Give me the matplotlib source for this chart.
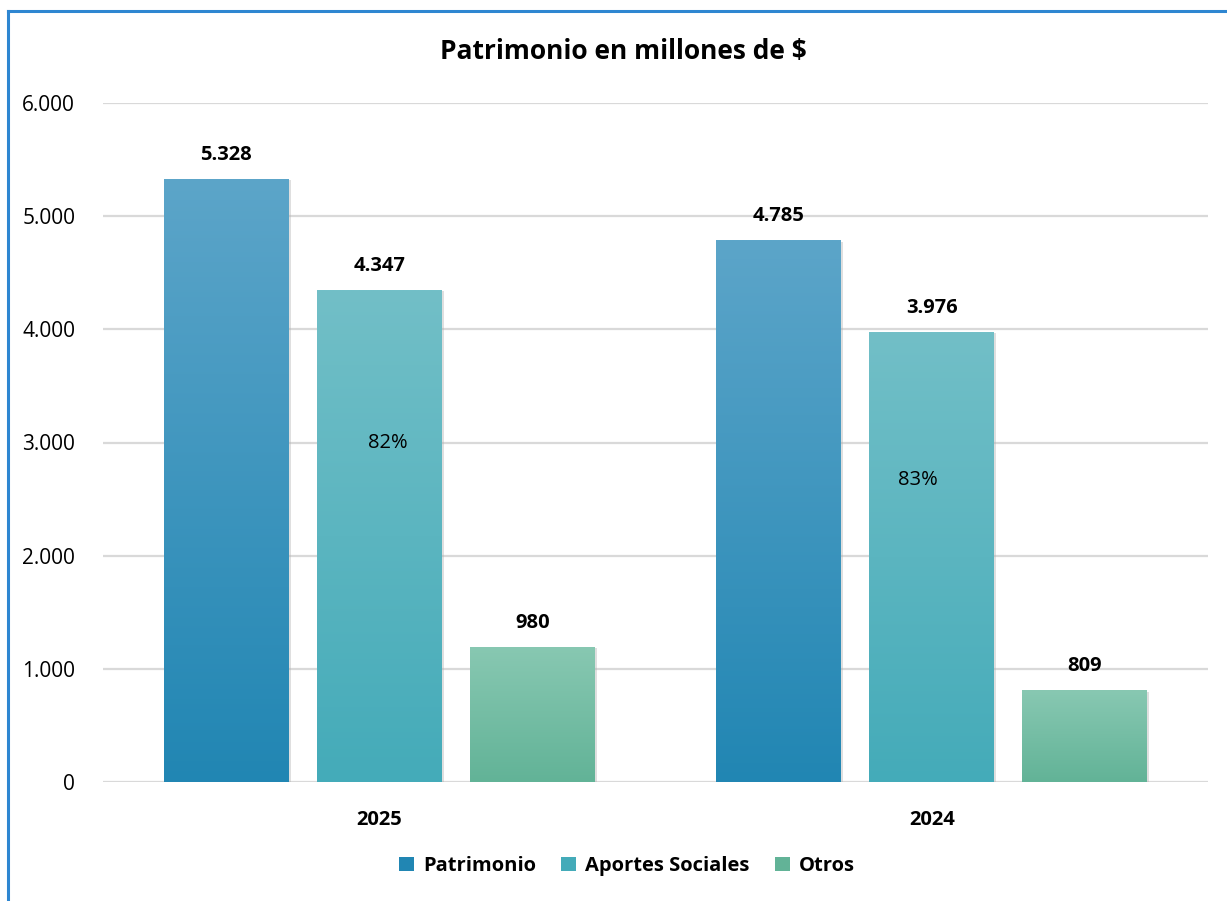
import numpy as np
import matplotlib.pyplot as plt
from matplotlib.colors import LinearSegmentedColormap
from matplotlib.patches import Patch, Rectangle
from matplotlib import patheffects as pe
from matplotlib.ticker import FuncFormatter

years = ["2025", "2024"]
series = ["Patrimonio", "Aportes Sociales", "Otros"]
patrimonio = [5328, 4785]
aportes = [4347, 3976]
otros = [1195, 809]  # drawn height; 2025 label reads 980 in the source
labels = [["5.328", "4.785"], ["4.347", "3.976"], ["980", "809"]]
pct_labels = ["82%", "83%"]
pct_pos = [(0.015, 3000), (-0.025, 2670)]

top_colors = ["#5ca5c9", "#72bfc7", "#88c8b2"]
bot_colors = ["#2186b3", "#44abb9", "#62b397"]

plt.rcParams["font.family"] = ["Open Sans", "DejaVu Sans"]

fig = plt.figure(figsize=(12.27, 9.01), dpi=100)
ax = fig.add_axes([103 / 1227, 1 - 782 / 901, (1208 - 103) / 1227, (782 - 103) / 901])

values = [patrimonio, aportes, otros]
x = np.arange(len(years))
width = 0.226
offsets = [-0.277, 0, 0.277]
grad = np.linspace(0, 1, 256).reshape(-1, 1)

for i, vals in enumerate(values):
    cmap = LinearSegmentedColormap.from_list(series[i], [bot_colors[i], top_colors[i]])
    for j, v in enumerate(vals):
        x0 = x[j] + offsets[i] - width / 2
        rect = Rectangle((x0, 0), width, v, facecolor="none", edgecolor="none", zorder=3)
        ax.add_patch(rect)
        shadow = Rectangle((x0, 0), width, v, facecolor="#000000", alpha=0.0, zorder=2,
                           path_effects=[pe.SimplePatchShadow(offset=(1.5, -1), shadow_rgbFace="#b0b0b0", alpha=0.4)])
        ax.add_patch(shadow)
        im = ax.imshow(grad, extent=(x0, x0 + width, 0, v), origin="lower", aspect="auto",
                       cmap=cmap, zorder=3)
        im.set_clip_path(rect)
        ax.text(x[j] + offsets[i], v + 125, labels[i][j], ha="center", va="bottom",
                fontsize=14.5, fontweight="bold", color="#000000", zorder=4)

for j, (dx, y) in enumerate(pct_pos):
    ax.text(x[j] + dx, y, pct_labels[j], ha="center", va="center", fontsize=14.5, color="#000000", zorder=4)

ax.set_xlim(-0.5, 1.5)
ax.set_ylim(0, 6000)
ax.set_yticks(range(0, 6001, 1000))
ax.yaxis.set_major_formatter(FuncFormatter(lambda v, p: f"{int(v):,}".replace(",", ".")))
ax.set_xticks(x)
ax.set_xticklabels(years, fontsize=14.5, fontweight="bold")
ax.tick_params(axis="y", labelsize=15, length=0, pad=20)
ax.tick_params(axis="x", length=0, pad=20)
ax.grid(axis="y", color="#d9d9d9", linewidth=1.6, zorder=0)
ax.set_axisbelow(True)
for s in ax.spines.values():
    s.set_visible(False)

fig.text(623 / 1227, 1 - 52 / 901, "Patrimonio en millones de $", ha="center", va="center",
         fontsize=19, fontweight="bold")

handles = [Patch(facecolor=bot_colors[i], edgecolor="none") for i in range(3)]
fig.legend(handles, series, loc="center", bbox_to_anchor=(627 / 1227, 1 - 866 / 901), ncol=3,
           frameon=False, prop={"size": 14.5, "weight": "bold"}, handlelength=0.75, handleheight=0.75,
           handletextpad=0.45, columnspacing=1.25)

# blue frame (left and top edges visible)
fig.add_artist(plt.Line2D([8 / 1227, 8 / 1227], [0, 1 - 11 / 901], color="#2e86d1", linewidth=2.2,
                          transform=fig.transFigure))
fig.add_artist(plt.Line2D([8 / 1227, 1], [1 - 11 / 901, 1 - 11 / 901], color="#2e86d1", linewidth=2.2,
                          transform=fig.transFigure))

fig.savefig("out.png", dpi=100)
